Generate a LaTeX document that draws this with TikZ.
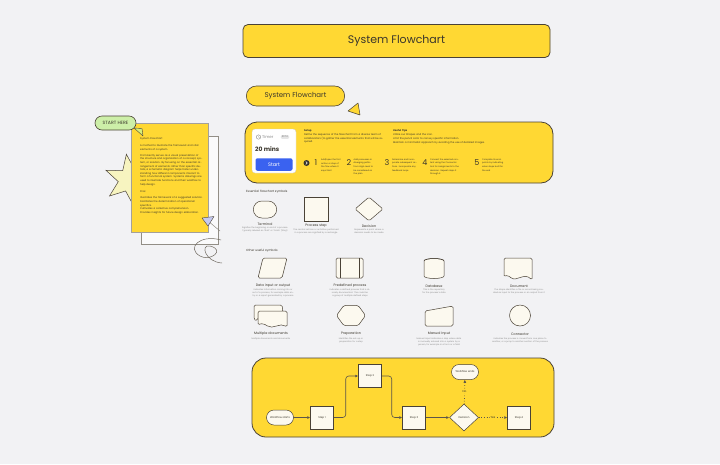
\documentclass[tikz,border=0pt]{standalone}
\usepackage{fontspec}
\setmainfont{Poppins}
\usetikzlibrary{shapes.geometric,shapes.misc,arrows.meta}
\definecolor{bg}{HTML}{F2F2F4}
\definecolor{yel}{HTML}{FFD833}
\definecolor{ink}{HTML}{4A4236}
\definecolor{paper}{HTML}{FCF9EF}
\definecolor{txt}{HTML}{3A362C}
\definecolor{gtxt}{HTML}{8C8C8C}
\definecolor{blu}{HTML}{3A62F0}
\definecolor{mint}{HTML}{CDEFA8}
\definecolor{lime}{HTML}{D6EE7A}
\definecolor{starc}{HTML}{F7F4C0}
\definecolor{lav}{HTML}{C5CAF2}
\newcommand{\fsz}[2]{\fontsize{#1}{#2}\selectfont}
\tikzset{
  shp/.style={draw=ink, fill=paper, line width=0.5pt},
  symlabel/.style={font=\fsz{3.4}{4}, text=txt, inner sep=0pt},
  symdesc/.style={font=\fsz{2.1}{3.0}, text=gtxt, inner sep=0pt, align=center, text width=48pt},
  tinytext/.style={font=\fsz{2.5}{3.6}, text=txt, inner sep=0pt, align=left},
  steptext/.style={font=\fsz{2.1}{3.6}, text=txt, inner sep=0pt, align=left},
  stepnum/.style={font=\fsz{8}{8}, text=txt, inner sep=0pt},
  fbox/.style={draw=ink, fill=paper, line width=0.5pt, minimum width=23pt, minimum height=23pt, font=\fsz{2.6}{3}, text=txt},
  fterm/.style={draw=ink, fill=paper, line width=0.5pt, rounded rectangle, minimum width=29pt, minimum height=15pt, font=\fsz{2.6}{3}, text=txt, inner sep=1pt},
  fdec/.style={draw=ink, fill=paper, line width=0.5pt, diamond, aspect=1.05, minimum width=29pt, minimum height=27pt, font=\fsz{2.6}{3}, text=txt, inner sep=0pt},
  flow/.style={draw=ink!90, line width=0.6pt, -{Latex[length=3pt,width=3pt]}, rounded corners=3pt},
  dflow/.style={flow, dotted, line width=0.8pt},
}
\begin{document}
\begin{tikzpicture}[x=1pt,y=-1pt]
\fill[bg] (0,0) rectangle (720,464);
\useasboundingbox (0,0) rectangle (720,464);

% ---------- titles
\node[draw=ink, fill=yel, rounded corners=5pt, line width=0.8pt, minimum width=307pt, minimum height=33pt, font=\fsz{11}{13}, text=txt] (title) at (396.5,41) {System Flowchart};
\node[draw=ink, fill=yel, rounded rectangle, line width=0.6pt, minimum width=105pt, minimum height=20pt, font=\fsz{7}{8}, text=txt] (pill) at (295.5,96) {System Flowchart};
\draw[ink, fill=yel, line width=0.5pt, line join=round] (348,111) -- (358,103) -- (360,115) -- cycle;

% ---------- left notes
\node[star, star points=6, star point ratio=2.2, draw=ink, fill=starc, line width=0.5pt, minimum size=52pt, rotate=8] (star) at (130,180) {};
\node[draw=ink!60, fill=white!60!bg, line width=0.4pt, minimum width=77pt, minimum height=108pt, inner sep=0] (backsheet) at (180,190) {};
\node[draw=ink!50, fill=yel, line width=0.4pt, minimum width=77pt, minimum height=109pt, inner sep=0] (sheet) at (170,178) {};
\node[anchor=north west, font=\fsz{2.5}{3.6}, text=txt, inner sep=0pt, align=left, text width=63pt] (sheettext) at (140,137.5) {%
System Flowchart\par\vspace{3.5pt}
A method to illustrate the framework and vital elements of a system.\par\vspace{2.5pt}
Prominently serves as a visual presentation of the structure and organization of a concept, system, or solution. By focusing on the essential arrangement of elements rather than specific details, a schematic diagram helps foster understanding how different components interact to form a functional system. Systems drawings are used to illustrate functions and their workflow to help design.\par\vspace{4pt}
Pros:\par\vspace{2.5pt}
Illustrates the framework of a suggested solution.\par
Facilitates the determination of operational specifics.\par
Cultivates a collective comprehension.\par
Provides insights for future design elaboration.};
\node[draw=ink, fill=mint, rounded rectangle, line width=0.6pt, minimum width=43pt, minimum height=14pt, font=\fsz{4.6}{5}, text=txt, inner sep=1pt] (starthere) at (115.5,123) {START HERE};
\draw[ink, fill=lime, line width=0.4pt, line join=round] (134,128) -- (142,128.5) -- (143,136) -- cycle;
\draw[ink!70, line width=0.4pt] (208,221) -- (220,231);
\draw[ink, fill=lav, line width=0.4pt, line join=round] (202,218) -- (214,216.5) -- (208,226) -- cycle;
\draw[ink!80, line width=0.5pt] (221,240) .. controls (200,234) and (186,248) .. (200,256)
  .. controls (210,262) and (226,250) .. (210,246) .. controls (200,244) and (205,262) .. (222,263);

% ---------- setup banner
\node[draw=ink, fill=yel, rounded corners=12pt, line width=0.8pt, minimum width=308pt, minimum height=61pt] (banner) at (399,152.5) {};
\node[fill=white, rounded corners=3pt, draw=ink!25, line width=0.3pt, minimum width=44pt, minimum height=44pt] (card) at (274,151) {};
\draw[gtxt, line width=0.4pt] (258.5,137) circle (2.2pt);
\draw[gtxt, line width=0.3pt] (258.5,135.6) -- (258.5,137) -- (259.6,137.6);
\node[anchor=west, font=\fsz{4}{5}, text=gtxt, inner sep=0] (timerlbl) at (262,137) {Timer};
\node[fill=black!10, rounded corners=1pt, font=\fsz{2.6}{3}, text=gtxt, inner sep=1pt] (beta) at (285,137) {BETA};
\node[anchor=west, font=\fsz{6}{7}\bfseries, text=txt, inner sep=0] (mins) at (255,149.5) {20 mins};
\node[fill=blu, rounded corners=2pt, minimum width=37pt, minimum height=12.5pt, text=white, font=\fsz{5}{6}, inner sep=0] (start) at (274,164.5) {Start};

\node[anchor=north west, tinytext, text width=80pt] (setup) at (304,129.5) {\textbf{Setup}\par\vspace{0.5pt}Define the sequence of the flowchart from a diverse team of collaborators (to gather the essential elements that will be required.};
\node[anchor=north west, tinytext, text width=104pt] (tips) at (393,129.5) {\textbf{Useful Tips}\par\vspace{0.5pt}Utilize our Shapes and the icon.\par Limit the pencil color to convey specific information.\par Maintain a minimalist approach by avoiding the use of detailed images.};

\node[circle, fill=txt, minimum size=6pt, inner sep=0] (bullet) at (306.5,163) {};
\draw[white, line width=0.5pt] (305.8,161.6) -- (307.3,163) -- (305.8,164.4);

\node[stepnum] (n1) at (316,163) {1};
\node[anchor=north west, steptext, text width=21pt] (s1) at (321,158.5) {Add/open the first action or step of the flow where it says Start};
\node[stepnum] (n2) at (349,163) {2};
\node[anchor=north west, steptext, text width=22pt] (s2) at (353.5,158.5) {Add processes in diverging paths from High-level to be considered on the plan};
\node[stepnum] (n3) at (387,163) {3};
\node[anchor=north west, steptext, text width=25pt] (s3) at (392,158.5) {Determine and Incorporate subsequent actions. Incorporate any feedback loops};
\node[stepnum] (n4) at (425,163) {4};
\node[anchor=north west, steptext, text width=30pt] (s4) at (430,158.5) {Connect the selected content using the Connector tool for Assignments to the decision. Repeat steps 3 through 4};
\node[stepnum] (n5) at (477,163) {5};
\node[anchor=north west, steptext, text width=23pt] (s5) at (482,158.5) {Complete its endpoints by indicating when steps built for the end};

% ---------- essential symbols
\node[anchor=west, font=\fsz{3}{3.5}, text=txt, inner sep=0] (ess) at (246,192) {Essential flowchart symbols};
\node[shp, rounded rectangle, minimum width=30pt, minimum height=17pt] (term) at (265,209.5) {};
\node[symlabel] (terml) at (265,224) {Terminal};
\node[symdesc, anchor=north] (termd) at (265,227) {Signifies the beginning or end of a process. Typically labeled as 'Start' or 'Finish' (Stop)};
\node[shp, minimum width=24pt, minimum height=24pt] (proc) at (316,209) {};
\node[symlabel] (procl) at (316,226) {Process step};
\node[symdesc, anchor=north] (procd) at (316,229) {The central actions or activities performed in a process are signified by a rectangle};
\node[shp, diamond, minimum width=28pt, minimum height=24pt, rounded corners=1.5pt] (dec) at (369,209) {};
\node[symlabel] (decl) at (369,226) {Decision};
\node[symdesc, anchor=north] (decd) at (369,229) {Represents a point where a decision needs to be made};

% ---------- other symbols
\node[anchor=west, font=\fsz{3}{3.5}, text=txt, inner sep=0] (oth) at (246,251) {Other useful symbols};
% data io
\draw[shp, rounded corners=1.5pt] (258,278) -- (263,258) -- (287,258) -- (282,278) -- cycle;
\node[symlabel] (diol) at (273,286) {Data input or output};
\node[symdesc, anchor=north, text width=52pt] (diod) at (273,289) {Indicates information coming into or out of a process, for example data entry or a report generated by a process};
% predefined
\node[shp, minimum width=27pt, minimum height=20pt, rounded corners=1.5pt] (pre) at (349.5,268) {};
\draw[ink, line width=0.5pt] (340,258) -- (340,278) (359,258) -- (359,278);
\node[symlabel] (prel) at (350,286) {Predefined process};
\node[symdesc, anchor=north, text width=52pt] (pred) at (350,289) {Indicates a defined process that is already documented. This could be a group of multiple defined steps};
% database
\draw[shp] (424,261) -- (424,276) arc[start angle=180, end angle=360, x radius=10pt, y radius=2.5pt] -- (444,261) arc[start angle=0, end angle=180, x radius=10pt, y radius=2.5pt] -- cycle;
\draw[ink, line width=0.5pt] (424,261) arc[start angle=180, end angle=360, x radius=10pt, y radius=-2.5pt];
\node[symlabel] (dbl) at (434,286) {Database};
\node[symdesc, anchor=north, text width=36pt] (dbd) at (434,289) {This is the repository for the process's data};
% document
\draw[shp, rounded corners=1.5pt] (504,258) -- (532,258) -- (532,280) .. controls (524,272) and (517,282) .. (510,277) .. controls (507,275) and (505,276) .. (504,277) -- cycle;
\node[symlabel] (docl) at (519,286) {Document};
\node[symdesc, anchor=north, text width=52pt] (docd) at (519,289) {The shape identifies a file or record being created as input to the process or an output from it};

% multiple documents
\draw[shp, rounded corners=1.5pt] (254,305) -- (282,305) -- (283,312) -- (258,312) -- (258,320) .. controls (256,320) and (255,320) .. (254,319) -- cycle;
\draw[shp, rounded corners=1.5pt] (258,311) -- (287,311) -- (287,327) .. controls (280,322) and (273,330) .. (266,325) .. controls (262,323) and (260,324) .. (258,325) -- cycle;
\node[symlabel] (mdl) at (271,334) {Multiple documents};
\node[symdesc, anchor=north] (mdd) at (271,337.5) {Multiple documents and documents};
% preparation
\node[shp, regular polygon, regular polygon sides=6, minimum size=29pt, inner sep=0, yscale=0.8, rounded corners=1.5pt] (prep) at (351,315.5) {};
\node[symlabel] (prepl) at (351,334) {Preparation};
\node[symdesc, anchor=north, text width=36pt] (prepd) at (351,337.5) {Identifies the set-up or preparation for a step};
% manual input
\draw[shp, rounded corners=1.5pt] (425,311) -- (453,306) -- (453,326) -- (425,326) -- cycle;
\node[symlabel] (mil) at (439,334) {Manual Input};
\node[symdesc, anchor=north, text width=60pt] (mid) at (439,337.5) {Manual input indicates a step where data is manually entered into a system by a person, for example in a form or a field};
% connector
\node[shp, circle, minimum size=21pt, inner sep=0] (conn) at (520,315.5) {};
\node[symlabel] (connl) at (520,334) {Connector};
\node[symdesc, anchor=north, text width=60pt] (connd) at (520,337.5) {Indicates the process is moved from one place to another, or a jump to another section of the process};

% ---------- example flowchart
\node[draw=ink, fill=yel, rounded corners=14pt, line width=0.8pt, minimum width=302pt, minimum height=79pt] (flowbox) at (403,397.5) {};
\node[fterm] (ws) at (280,417.5) {Workflow starts};
\node[fbox] (st1) at (322,417.5) {Step 1};
\node[fbox] (st2) at (370,376) {Step 2};
\node[fbox] (st3) at (414,417.5) {Step 3};
\node[fdec] (dc) at (464,417.5) {Decision};
\node[fterm] (we) at (465,372) {Workflow ends};
\node[fbox] (st4) at (519,417.5) {Step 4};

\draw[flow] (ws) -- (st1);
\draw[flow] (st1.east) -- ++(12,0) |- (st2.west);
\draw[flow] (st2.east) -- ++(10,0) |- (st3.west);
\draw[flow] (st3) -- (dc);
\draw[dflow] (dc) -- node[fill=yel, font=\fsz{2.8}{3}, text=txt, inner sep=1pt] (yes) {Yes} (st4);
\draw[dflow] (dc) -- node[fill=yel, font=\fsz{2.8}{3}, text=txt, inner sep=1pt] (no) {No} (we);
\end{tikzpicture}
\end{document}
